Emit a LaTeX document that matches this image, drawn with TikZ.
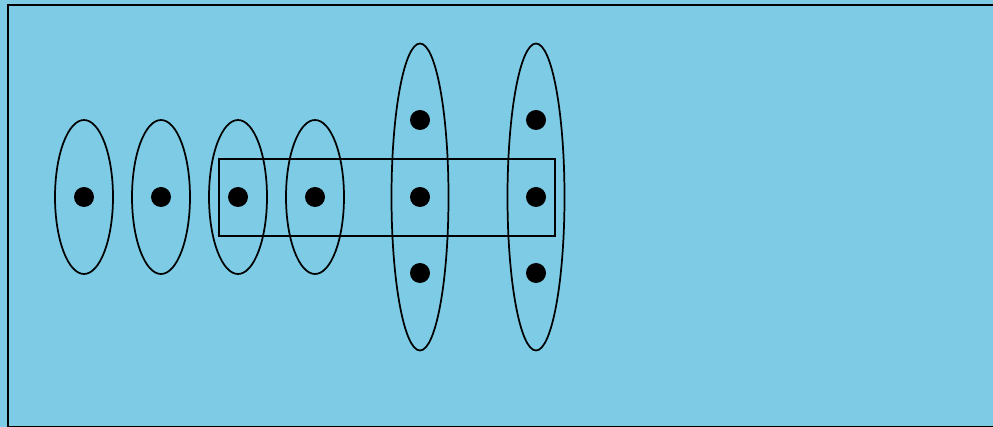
\documentclass[tikz,border=0pt]{standalone}
\usepackage{tikz}
\definecolor{skyfill}{HTML}{7ECBE5}
\tikzset{pt/.style={circle,fill=black,inner sep=0pt,minimum size=15pt}}

\begin{document}
\begin{tikzpicture}[x=0.75pt,y=-0.75pt,line width=1.3pt]
  \fill[skyfill] (0,0) rectangle (993,427);
  \useasboundingbox (0,0) rectangle (993,427);
  \draw (8,5) rectangle (1005,426.5);
  \foreach \x/\n in {84/a,161/b,238/c,315/d}{
    \draw (\x,197) ellipse [x radius=29,y radius=77];
    \node[pt] (\n) at (\x,197) {};
  }
  \foreach \x/\n in {420/e,536/f}{
    \draw (\x,197) ellipse [x radius=28.5,y radius=153.5];
    \node[pt] (\n1) at (\x,120) {};
    \node[pt] (\n2) at (\x,197) {};
    \node[pt] (\n3) at (\x,273) {};
  }
  \draw (219,159) rectangle (555,236);
\end{tikzpicture}
\end{document}
